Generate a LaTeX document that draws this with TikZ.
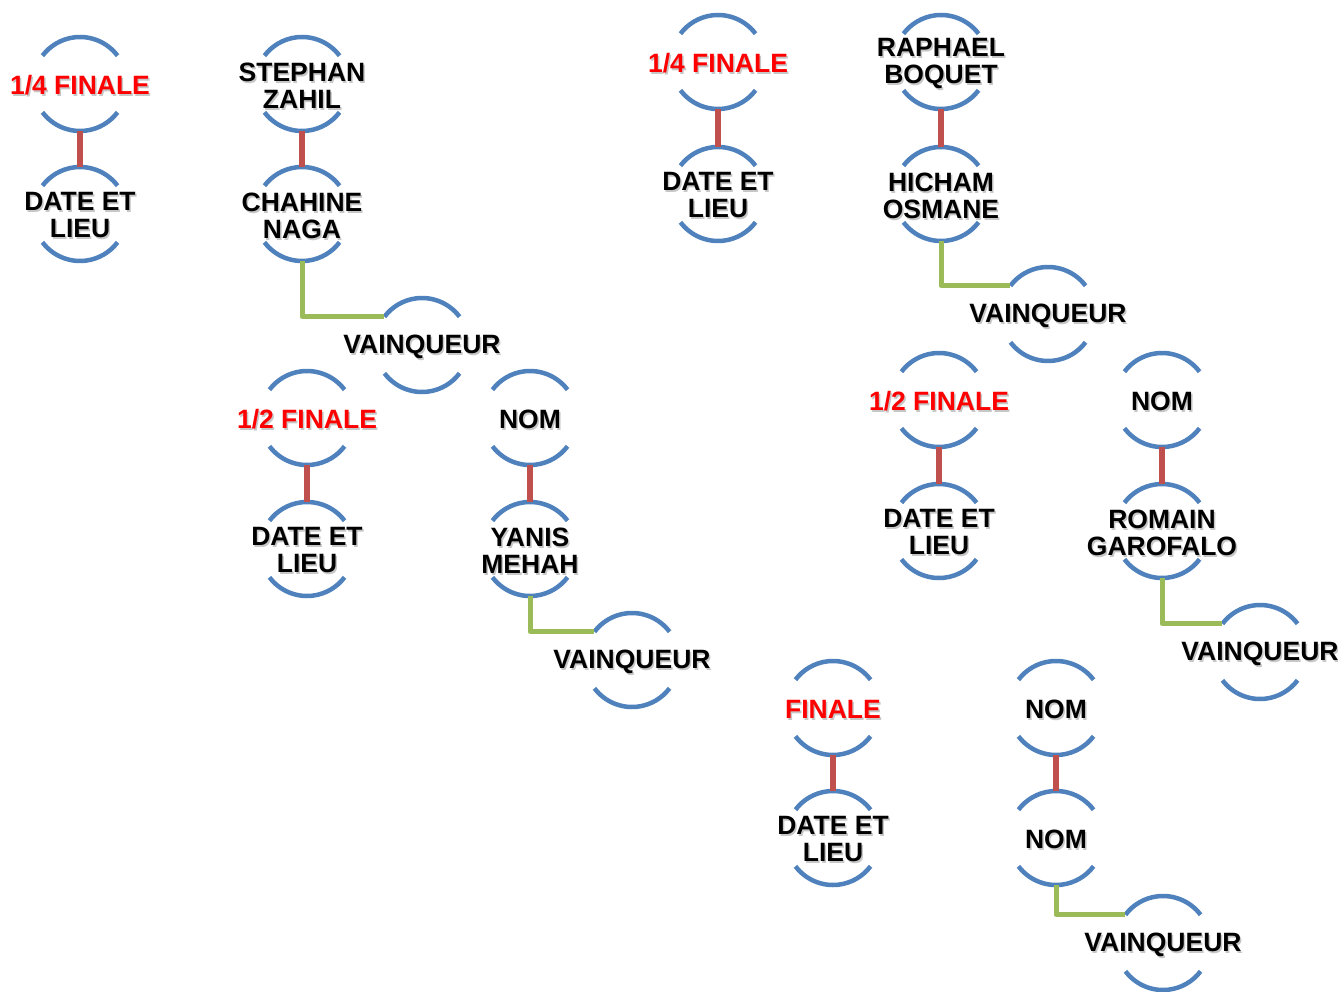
\documentclass[tikz,border=0pt]{standalone}
\usepackage{fontspec}
\setmainfont{Liberation Sans}
\definecolor{ringblue}{RGB}{79,129,189}
\definecolor{linkred}{RGB}{192,80,77}
\definecolor{linkgreen}{RGB}{155,187,89}

% one match: a ring (two arcs) with its text in the middle
\newcommand{\matchnode}[4][black]{%
  \node[ring, label={[lblshadow]center:{#4}}, label={[lbl,text=#1]center:{#4}}] (#2) at (#3) {};
  \draw[arcs] (#2.37) arc[start angle=37, end angle=143, radius=47];
  \draw[arcs] (#2.217) arc[start angle=217, end angle=323, radius=47];
}

\begin{document}
\begin{tikzpicture}[x=1pt, y=1pt,
    ring/.style={circle, minimum size=94pt, inner sep=0pt, outer sep=0pt},
    lbl/.style={font=\fontsize{26.5}{27}\selectfont\bfseries, align=center, inner sep=0pt, yshift=-1.5pt},
    lblshadow/.style={lbl, text=black!22, xshift=1.5pt, yshift=-2pt},
    arcs/.style={ringblue, line width=4.5pt},
    redlink/.style={linkred, line width=6pt},
    greenlink/.style={linkgreen, line width=5pt, line join=round}]
  \useasboundingbox (0,0) rectangle (1338,-992);

  % left quarter
  \matchnode[red]{qfa}{80,-84}{1/4 FINALE}
  \matchnode{qfadate}{80,-214}{DATE ET\\LIEU}
  \matchnode{stephan}{302,-84}{STEPHAN\\ZAHIL}
  \matchnode{chahine}{302,-214}{CHAHINE\\NAGA}
  \matchnode{winqa}{422,-345}{VAINQUEUR}
  \draw[redlink] (qfa.south) -- (qfadate.north);
  \draw[redlink] (stephan.south) -- (chahine.north);
  \draw[greenlink] (chahine.south) |- (winqa.143);

  % left semi
  \matchnode[red]{sfa}{307,-418}{1/2 FINALE}
  \matchnode{sfadate}{307,-549}{DATE ET\\LIEU}
  \matchnode{noma}{530,-418}{NOM}
  \matchnode{yanis}{530,-549}{YANIS\\MEHAH}
  \matchnode{winsa}{632,-660}{VAINQUEUR}
  \draw[redlink] (sfa.south) -- (sfadate.north);
  \draw[redlink] (noma.south) -- (yanis.north);
  \draw[greenlink] (yanis.south) |- (winsa.143);

  % right quarter
  \matchnode[red]{qfb}{718,-62}{1/4 FINALE}
  \matchnode{qfbdate}{718,-194}{DATE ET\\LIEU}
  \matchnode{raphael}{941,-62}{RAPHAEL\\BOQUET}
  \matchnode{hicham}{941,-194}{HICHAM\\OSMANE}
  \matchnode{winqb}{1048,-314}{VAINQUEUR}
  \draw[redlink] (qfb.south) -- (qfbdate.north);
  \draw[redlink] (raphael.south) -- (hicham.north);
  \draw[greenlink] (hicham.south) |- (winqb.143);

  % right semi
  \matchnode[red]{sfb}{939,-400}{1/2 FINALE}
  \matchnode{sfbdate}{939,-531}{DATE ET\\LIEU}
  \matchnode{nomb}{1162,-400}{NOM}
  \matchnode{romain}{1162,-531}{ROMAIN\\GAROFALO}
  \matchnode{winsb}{1260,-652}{VAINQUEUR}
  \draw[redlink] (sfb.south) -- (sfbdate.north);
  \draw[redlink] (nomb.south) -- (romain.north);
  \draw[greenlink] (romain.south) |- (winsb.143);

  % final
  \matchnode[red]{fin}{833,-708}{FINALE}
  \matchnode{findate}{833,-838}{DATE ET\\LIEU}
  \matchnode{nomc}{1056,-708}{NOM}
  \matchnode{nomd}{1056,-838}{NOM}
  \matchnode{winf}{1163,-943}{VAINQUEUR}
  \draw[redlink] (fin.south) -- (findate.north);
  \draw[redlink] (nomc.south) -- (nomd.north);
  \draw[greenlink] (nomd.south) |- (winf.143);
\end{tikzpicture}
\end{document}
